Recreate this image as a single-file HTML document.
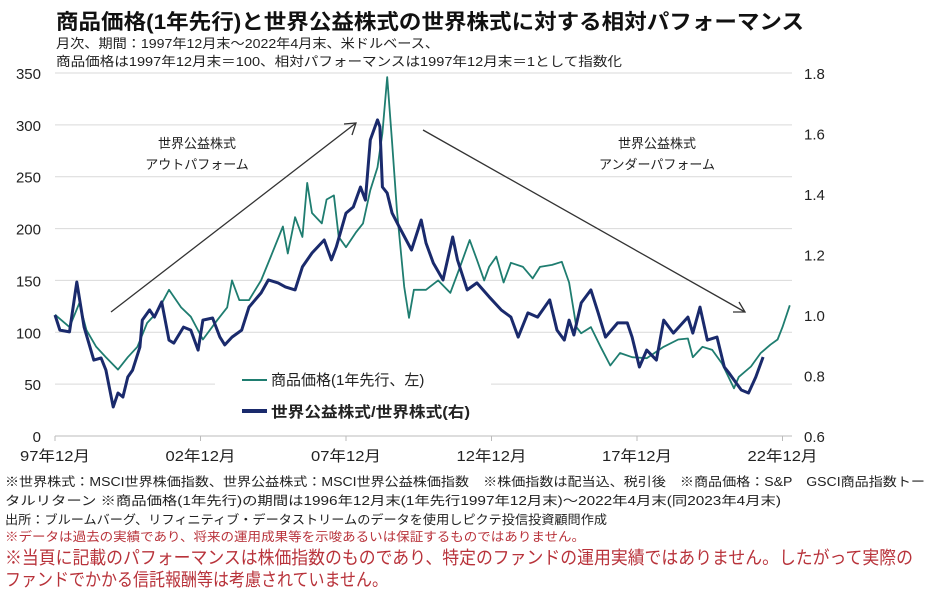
<!DOCTYPE html>
<html><head><meta charset="utf-8"><style>
html,body{margin:0;padding:0;background:#fff;}
svg{display:block;font-family:"Liberation Sans","Noto Sans CJK JP",sans-serif;}
</style></head><body>
<svg id="chart" width="930" height="590" viewBox="0 0 930 590" xmlns="http://www.w3.org/2000/svg">
<text x="56" y="29" font-size="21" font-weight="bold" fill="#111" textLength="748" lengthAdjust="spacingAndGlyphs">商品価格(1年先行)と世界公益株式の世界株式に対する相対パフォーマンス</text>
<text x="56" y="48" font-size="13" fill="#222" textLength="383" lengthAdjust="spacingAndGlyphs">月次、期間：1997年12月末～2022年4月末、米ドルベース、</text>
<text x="56" y="66" font-size="13" fill="#222" textLength="566" lengthAdjust="spacingAndGlyphs">商品価格は1997年12月末＝100、相対パフォーマンスは1997年12月末＝1として指数化</text>
<g id="grid"></g>
<g id="yleft"></g>
<g id="yright"></g>
<g id="xaxis"></g>
<g font-size="13" fill="#222" text-anchor="middle">
<text x="197" y="148">世界公益株式</text><text x="197" y="169">アウトパフォーム</text></g>
<g font-size="13" fill="#222" text-anchor="middle">
<text x="657" y="148">世界公益株式</text><text x="657" y="169">アンダーパフォーム</text></g>
<g stroke="#333" stroke-width="1.3" fill="none">
<line x1="111" y1="312" x2="356" y2="123"/><polyline points="344,124 356,123 352,135"/>
<line x1="423" y1="130" x2="745" y2="312"/><polyline points="733,312 745,312 739,302"/></g>
<rect x="215" y="362" width="276" height="64" fill="#fff"/>
<g id="series"></g>
<g>
<g><line x1="242" y1="380" x2="267" y2="380" stroke="#1f7d70" stroke-width="2"/><text x="271" y="385" font-size="15" fill="#222">商品価格(1年先行、左)</text></g>
<g><line x1="242" y1="411" x2="267" y2="411" stroke="#1a2a6c" stroke-width="4"/><text x="271" y="417" font-size="15" font-weight="bold" fill="#222" textLength="199" lengthAdjust="spacingAndGlyphs">世界公益株式/世界株式(右)</text></g>
</g>
<g fill="#222" font-size="12.5">
<text x="5" y="486" textLength="920" lengthAdjust="spacingAndGlyphs">※世界株式：MSCI世界株価指数、世界公益株式：MSCI世界公益株価指数　※株価指数は配当込、税引後　※商品価格：S&amp;P　GSCI商品指数トー</text>
<text x="5" y="505" textLength="776" lengthAdjust="spacingAndGlyphs">タルリターン ※商品価格(1年先行)の期間は1996年12月末(1年先行1997年12月末)～2022年4月末(同2023年4月末)</text>
<text x="5" y="524" textLength="602" lengthAdjust="spacingAndGlyphs">出所：ブルームバーグ、リフィニティブ・データストリームのデータを使用しピクテ投信投資顧問作成</text>
<text x="5" y="541" fill="#b8323a" textLength="580" lengthAdjust="spacingAndGlyphs">※データは過去の実績であり、将来の運用成果等を示唆あるいは保証するものではありません。</text>
<text x="5" y="564" fill="#b8323a" font-size="18" textLength="908" lengthAdjust="spacingAndGlyphs">※当頁に記載のパフォーマンスは株価指数のものであり、特定のファンドの運用実績ではありません。したがって実際の</text>
<text x="5" y="586" fill="#b8323a" font-size="18" textLength="383" lengthAdjust="spacingAndGlyphs">ファンドでかかる信託報酬等は考慮されていません。</text>
</g>
</svg>
<script>
const xTickLabels = ["97年12月","02年12月","07年12月","12年12月","17年12月","22年12月"];
const xTickMonths = [0,60,120,180,240,300];
const leftTicks = [0,50,100,150,200,250,300,350];
const rightTicks = ["0.6","0.8","1.0","1.2","1.4","1.6","1.8"];
const commodityMonths = [0,6,10,13,17,21,26,30,34,38,42,47,52,56,61,67,71,73,76,80,85,89,94,96,99,102,104,106,110,112,115,117,120,124,127,130,133,135,137,139,141,144,146,148,153,158,163,167,171,174,177,179,182,185,188,193,197,200,205,209,212,215,217,221,225,229,233,238,244,251,257,261,263,267,271,275,280,282,287,291,295,298,300,303];
const commodityValues = [117,105,128,102,86,76,64,76,86,109,119,141,124,115,93,112,124,150,131,131,150,173,202,176,211,192,244,215,205,228,232,192,182,196,205,237,259,292,346,283,218,144,114,141,141,150,138,163,189,170,150,163,173,148,167,163,152,163,165,168,148,105,99,105,86,68,80,76,75,86,93,94,76,86,83,70,46,57,67,80,88,93,105,126];
const relMonths = [0,2,6,9,12,16,19,21,24,26,28,30,32,35,36,39,41,44,47,49,53,56,59,61,65,68,70,73,77,80,85,88,92,95,99,102,106,111,114,116,120,123,126,128,130,133,134,135,137,139,142,147,151,153,156,160,164,166,170,174,179,184,188,191,195,199,204,207,210,212,214,217,221,224,227,232,236,238,241,244,248,251,255,261,263,266,269,273,276,278,280,283,286,289,292];
const relValues = [1.00,0.95,0.944,1.109,0.96,0.851,0.858,0.818,0.696,0.742,0.729,0.795,0.818,0.894,0.983,1.017,0.993,1.043,0.917,0.907,0.96,0.95,0.884,0.983,0.99,0.927,0.901,0.927,0.95,1.026,1.073,1.116,1.106,1.093,1.083,1.159,1.205,1.248,1.182,1.225,1.337,1.357,1.423,1.38,1.579,1.645,1.622,1.423,1.403,1.337,1.291,1.215,1.314,1.238,1.172,1.116,1.258,1.182,1.083,1.106,1.06,1.017,0.993,0.927,1.007,0.993,1.05,0.95,0.917,0.983,0.934,1.04,1.083,1.007,0.927,0.974,0.974,0.927,0.828,0.884,0.851,0.983,0.94,0.993,0.94,1.026,0.917,0.927,0.828,0.808,0.785,0.752,0.742,0.795,0.861];

const NS="http://www.w3.org/2000/svg";
const X0=55, PXM=2.425, YB=436, YT=73;
const xs = m => X0 + m*PXM;
const yl = v => YB - (v/350)*(YB-YT);
const yr = v => YB - ((v-0.6)/1.2)*(YB-YT);
function mk(tag, parent, attrs){const e=document.createElementNS(NS,tag);for(const k in attrs)e.setAttribute(k,attrs[k]);parent.appendChild(e);return e;}
const grid=document.getElementById('grid'), yL=document.getElementById('yleft'), yR=document.getElementById('yright'), xa=document.getElementById('xaxis'), ser=document.getElementById('series');
leftTicks.forEach((v,i)=>{
  const y=yl(v);
  const g=mk('line',grid,{x1:55,x2:792,y1:y,y2:y,stroke:v===0?'#bbb':'#d9d9d9','stroke-width':1});
  
  
  const t=mk('text',yL,{x:41,y:y+6,'font-size':15,'text-anchor':'end',fill:'#222'});
  
  
  t.textContent=v;
});
rightTicks.forEach(v=>{
  const y=yr(parseFloat(v));
  const t=mk('text',yR,{x:804,y:y+6,'font-size':15,fill:'#222'});
  
  
  t.textContent=v;
});
xTickMonths.forEach((m,i)=>{
  const x=xs(m);
  const tk=mk('line',xa,{x1:x,x2:x,y1:YB,y2:YB+5,stroke:'#bbb'});
  
  
  const t=mk('text',xa,{x:x,y:461,'font-size':15,'text-anchor':'middle',fill:'#222',textLength:70,lengthAdjust:'spacingAndGlyphs'});
  
  
  t.textContent=xTickLabels[i];
});
const pc=commodityMonths.map((m,i)=>xs(m).toFixed(1)+','+yl(commodityValues[i]).toFixed(1)).join(' ');
const l1=mk('polyline',ser,{points:pc,fill:'none',stroke:'#1f7d70','stroke-width':1.8,'stroke-linejoin':'round'});


const pr=relMonths.map((m,i)=>xs(m).toFixed(1)+','+yr(relValues[i]).toFixed(1)).join(' ');
const l2=mk('polyline',ser,{points:pr,fill:'none',stroke:'#1a2a6c','stroke-width':3,'stroke-linejoin':'round'});


</script>
</body></html>
